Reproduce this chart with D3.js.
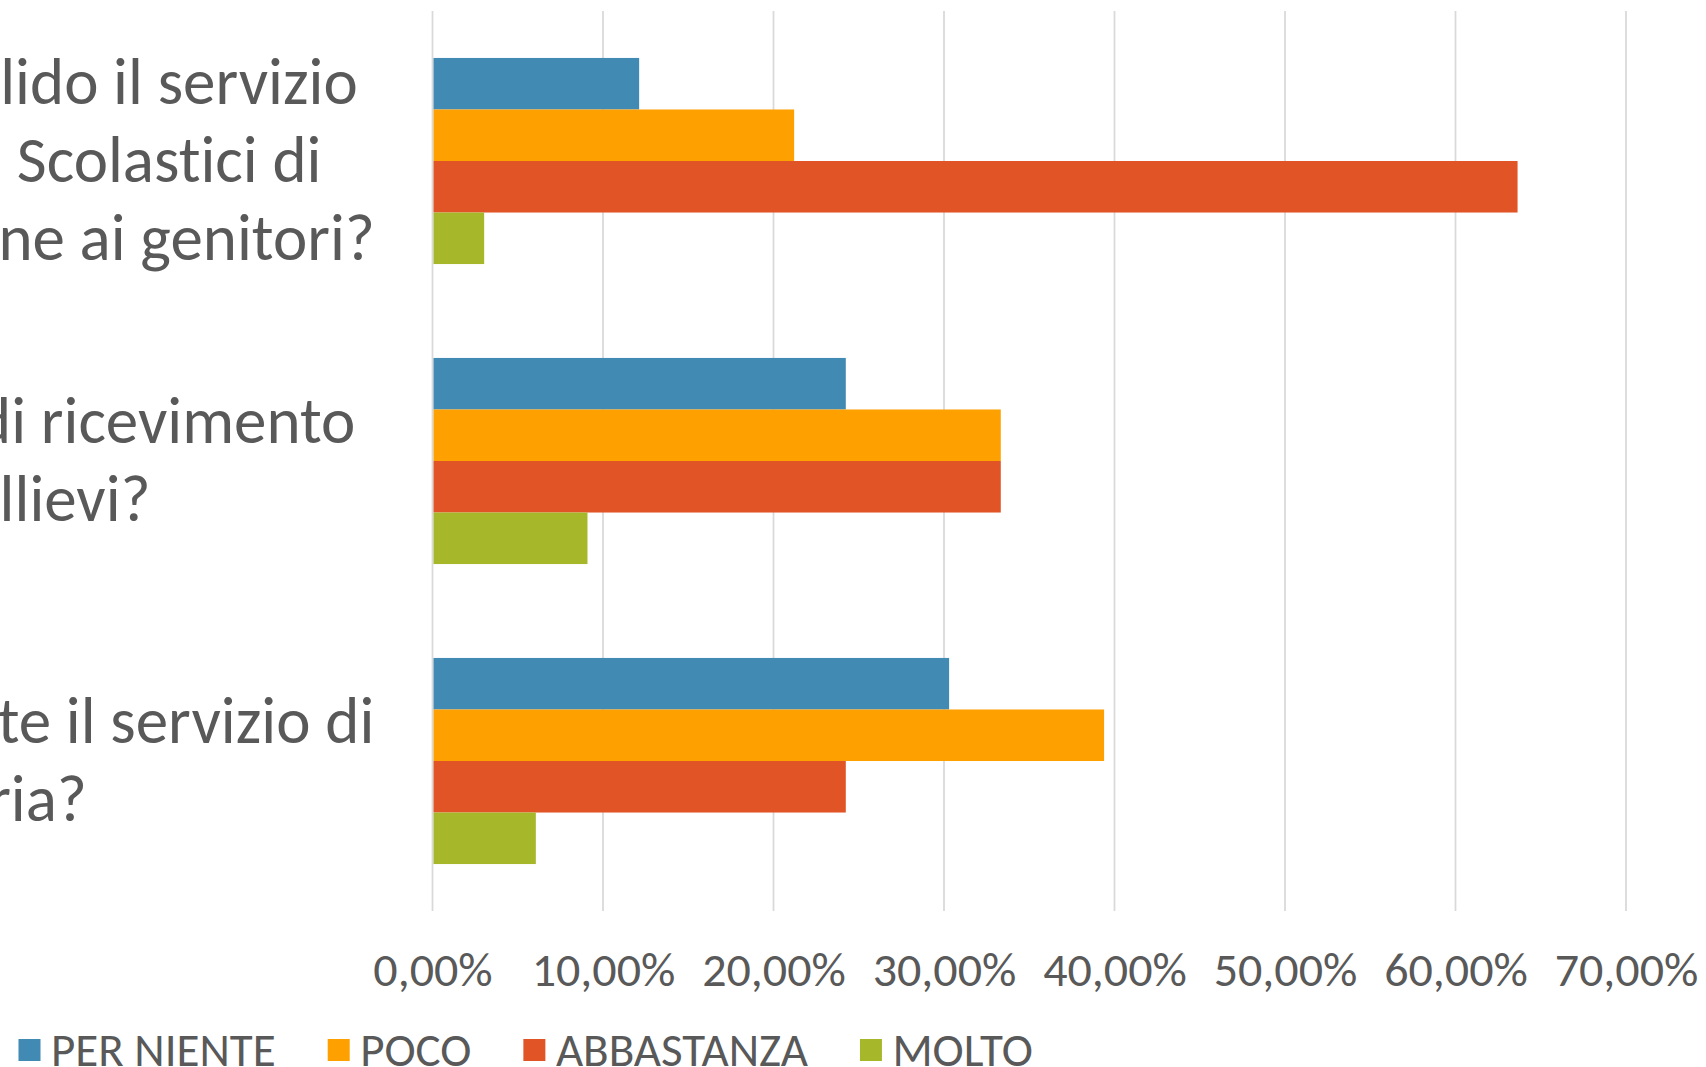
<!DOCTYPE html>
<html>
<head>
<meta charset="utf-8">
<script src="https://cdn.jsdelivr.net/npm/d3@7"></script>
<style>
  body { margin: 0; background: #fff; }
  svg { display: block; }
  text { font-family: Carlito, Calibri, Lato, sans-serif; fill: #595959; font-variant-ligatures: none; }
</style>
</head>
<body>
<div id="chart"></div>
<script>
// question labels, already wrapped in lines as in the original (left part is cut off)
const categories = ['q1', 'q2', 'q3']
const categoryLines = [
    ['Reputate valido il servizio', 'degli Uffici Scolastici di', 'comunicazione ai genitori?'],
    ['Negli orari di ricevimento', 'gli allievi?'],
    ['Come valutate il servizio di', 'aria?'],
]

const series = ['PER NIENTE', 'POCO', 'ABBASTANZA', 'MOLTO']
const perNiente = [0.1212, 0.2424, 0.3030]
const poco = [0.2121, 0.3333, 0.3939]
const abbastanza = [0.6364, 0.3333, 0.2424]
const molto = [0.0303, 0.0909, 0.0606]
const tickValues = [0, 0.1, 0.2, 0.3, 0.4, 0.5, 0.6, 0.7]

const colors = ['#418AB3', '#FEA000', '#E05426', '#A6B729']

const width = 1706
const height = 1067
const margin = {top: 11, right: 80, bottom: 157, left: 432.5}

const svg = d3.select('#chart').append('svg')
    .attr('width', width)
    .attr('height', height)

const itLocale = d3.formatLocale({decimal: ',', thousands: '.', grouping: [3], currency: ['', ' €']})
const pct = itLocale.format('.2%')

const x = d3.scaleLinear()
    .domain([0, 0.7])
    .range([margin.left, 1626])

const y = d3.scaleBand()
    .domain(categories)
    .range([margin.top, height - margin.bottom + 1])
    .paddingInner(0.313)
    .paddingOuter(0.1565)

const ySub = d3.scaleBand()
    .domain(series)
    .range([0, y.bandwidth()])

const data = categories.map((c, i) => ({
    cat: c,
    values: [perNiente[i], poco[i], abbastanza[i], molto[i]].map((v, j) => ({series: series[j], value: v}))
}))

// gridlines
svg.append('g')
    .selectAll('line')
    .data(tickValues)
    .join('line')
    .attr('x1', d => x(d))
    .attr('x2', d => x(d))
    .attr('y1', margin.top)
    .attr('y2', height - margin.bottom + 1)
    .attr('stroke', '#d9d9d9')
    .attr('stroke-width', 1.75)

// bars
const groups = svg.append('g')
    .selectAll('g')
    .data(data)
    .join('g')
    .attr('transform', d => `translate(0, ${y(d.cat)})`)

groups.selectAll('rect')
    .data(d => d.values)
    .join('rect')
    .attr('x', x(0) + 1)
    .attr('y', d => ySub(d.series))
    .attr('width', d => x(d.value) - x(0) - 1)
    .attr('height', ySub.bandwidth())
    .attr('fill', (d, i) => colors[i])

// x tick labels
const xAxis = d3.axisBottom(x)
    .tickValues(tickValues)
    .tickFormat(pct)
    .tickSize(0)
    .tickPadding(0)

const gx = svg.append('g')
    .attr('transform', `translate(0, 986)`)
    .call(xAxis)
gx.select('.domain').remove()
gx.selectAll('text')
    .attr('dy', 0)
    .style('font-size', '48px')
    .style('font-family', null)
    .attr('fill', '#595959')

// category labels: lines centered on a common center, clipped at the left edge
const labelCenter = 22
const lineHeight = 78
const labels = svg.append('g')
    .selectAll('text')
    .data(data)
    .join('text')
    .attr('text-anchor', 'middle')
    .style('font-size', '65px')

labels.each(function(d, i) {
    const lines = categoryLines[i]
    const mid = y(d.cat) + y.bandwidth() / 2
    const first = mid - (lines.length - 1) / 2 * lineHeight
    d3.select(this).selectAll('tspan')
        .data(lines)
        .join('tspan')
        .attr('x', labelCenter)
        .attr('y', (l, k) => first + k * lineHeight)
        .attr('dy', '0.32em')
        .text(l => l)
})

// legend
const legend = svg.append('g')
    .attr('transform', 'translate(18.5, 1050)')
let lx = 0
series.forEach((s, i) => {
    const item = legend.append('g').attr('transform', `translate(${lx}, 0)`)
    item.append('rect')
        .attr('x', 0)
        .attr('y', -11)
        .attr('width', 22)
        .attr('height', 22)
        .attr('fill', colors[i])
    const t = item.append('text')
        .attr('x', 32.5)
        .attr('dy', '0.34em')
        .style('font-size', '47px')
        .text(s)
    lx += 32.5 + t.node().getComputedTextLength() + 52
})
</script>
</body>
</html>
